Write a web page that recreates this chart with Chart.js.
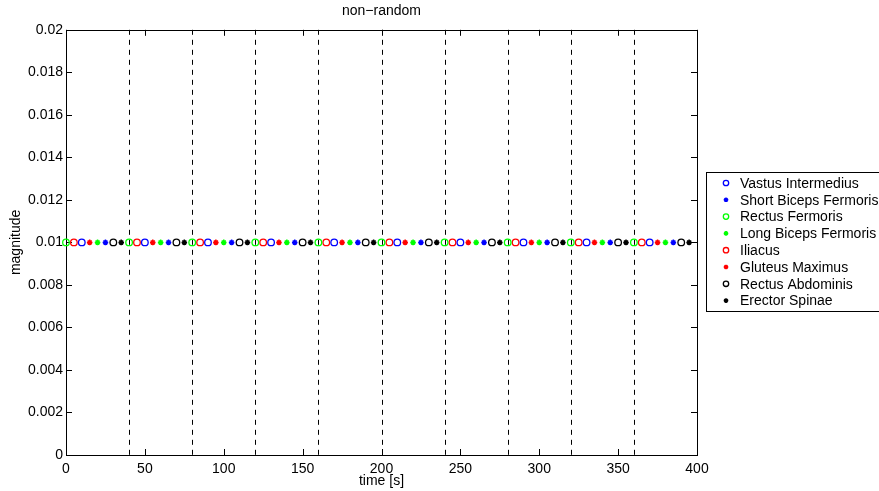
<!DOCTYPE html>
<html>
<head>
<meta charset="utf-8">
<title>non-random</title>
<script src="https://cdn.jsdelivr.net/npm/chart.js@4"></script>
<style>
  body { margin: 0; background: #fff; }
  #wrap { width: 879px; height: 491px; }
</style>
</head>
<body>
<div id="wrap"><canvas id="myCanvas" width="879" height="491"></canvas></div>
<script>
'use strict';

//global variables

const seriesNames = [
  'Vastus Intermedius',
  'Short Biceps Fermoris',
  'Rectus Fermoris',
  'Long Biceps Fermoris',
  'Iliacus',
  'Gluteus Maximus',
  'Rectus Abdominis',
  'Erector Spinae'
];

// sample times [s] for each muscle, same order as seriesNames
const vastusTimes = [10, 50, 90, 130, 170, 210, 250, 290, 330, 370];
const shortBicepsTimes = [25, 65, 105, 145, 185, 225, 265, 305, 345, 385];
const rectusFermorisTimes = [0, 40, 80, 120, 160, 200, 240, 280, 320, 360];
const longBicepsTimes = [20, 60, 100, 140, 180, 220, 260, 300, 340, 380];
const iliacusTimes = [5, 45, 85, 125, 165, 205, 245, 285, 325, 365];
const gluteusTimes = [15, 55, 95, 135, 175, 215, 255, 295, 335, 375];
const rectusAbdominisTimes = [30, 70, 110, 150, 190, 230, 270, 310, 350, 390];
const erectorTimes = [35, 75, 115, 155, 195, 235, 275, 315, 355, 395];

const seriesTimes = [vastusTimes, shortBicepsTimes, rectusFermorisTimes, longBicepsTimes,
  iliacusTimes, gluteusTimes, rectusAbdominisTimes, erectorTimes];

// magnitude is the same for every sample
const magnitudes = [0.01, 0.01, 0.01, 0.01, 0.01, 0.01, 0.01, 0.01, 0.01, 0.01];

// dashed separators between trials
const boundaries = [40, 80, 120, 160, 200, 240, 280, 320, 360];

const xTicks = [0, 50, 100, 150, 200, 250, 300, 350, 400];
const yTicks = [0, 0.002, 0.004, 0.006, 0.008, 0.01, 0.012, 0.014, 0.016, 0.018, 0.02];

const seriesColors = ['#0000ff', '#0000ff', '#00ff00', '#00ff00', '#ff0000', '#ff0000', '#000000', '#000000'];
const seriesMarkers = ['o', '*', 'o', '*', 'o', '*', 'o', '*'];

const fontFamily = '"Liberation Sans", Arial, Helvetica, sans-serif';

//functional logic

function markerStyle(marker, color, small) {
  if (marker === 'o') {
    return {
      pointStyle: 'circle',
      radius: small ? 2.7 : 3.3,
      borderWidth: 1.3,
      fill: 'rgba(0,0,0,0)',
      stroke: color
    };
  }
  return {
    pointStyle: 'star',
    radius: small ? 2.3 : 2.8,
    borderWidth: 1.5,
    fill: color,
    stroke: color
  };
}

function buildDatasets() {
  let sets = [];
  for (let i = 0; i < seriesNames.length; i++) {
    let points = [];
    for (let j = 0; j < seriesTimes[i].length; j++) {
      points.push({ x: seriesTimes[i][j], y: magnitudes[j] });
    }
    let m = markerStyle(seriesMarkers[i], seriesColors[i], false);
    sets.push({
      label: seriesNames[i],
      data: points,
      pointStyle: m.pointStyle,
      pointRadius: m.radius,
      pointBorderWidth: m.borderWidth,
      pointBackgroundColor: m.fill,
      pointBorderColor: m.stroke,
      showLine: false,
      clip: false
    });
  }
  return sets;
}

// box, inward ticks on all four sides and the dashed trial lines
const framePlugin = {
  id: 'frame',
  beforeDatasetsDraw(chart) {
    const ctx = chart.ctx;
    const area = chart.chartArea;
    const xs = chart.scales.x;
    const ys = chart.scales.y;
    ctx.save();

    ctx.strokeStyle = '#000';
    ctx.lineWidth = 1;
    ctx.setLineDash([5, 5]);
    for (let i = 0; i < boundaries.length; i++) {
      let px = Math.round(xs.getPixelForValue(boundaries[i])) + 0.5;
      ctx.beginPath();
      ctx.moveTo(px, area.top);
      ctx.lineTo(px, area.bottom);
      ctx.stroke();
    }
    ctx.setLineDash([]);

    const tick = 6;
    ctx.beginPath();
    for (let i = 0; i < xTicks.length; i++) {
      let px = Math.round(xs.getPixelForValue(xTicks[i])) + 0.5;
      ctx.moveTo(px, area.bottom);
      ctx.lineTo(px, area.bottom - tick);
      ctx.moveTo(px, area.top);
      ctx.lineTo(px, area.top + tick);
    }
    for (let i = 0; i < yTicks.length; i++) {
      let py = Math.round(ys.getPixelForValue(yTicks[i])) + 0.5;
      ctx.moveTo(area.left, py);
      ctx.lineTo(area.left + tick, py);
      ctx.moveTo(area.right, py);
      ctx.lineTo(area.right - tick, py);
    }
    ctx.stroke();

    ctx.lineWidth = 1;
    ctx.strokeRect(Math.round(area.left) + 0.5, Math.round(area.top) + 0.5,
      Math.round(area.right - area.left), Math.round(area.bottom - area.top));
    ctx.restore();
  }
};

// matlab style legend box sitting to the right of the axes
const legendPlugin = {
  id: 'boxLegend',
  afterDraw(chart) {
    const ctx = chart.ctx;
    const left = 706;
    const top = 172;
    const rowHeight = 16.8;
    ctx.save();
    ctx.fillStyle = '#fff';
    ctx.fillRect(left, top, 200, 139);
    ctx.strokeStyle = '#000';
    ctx.lineWidth = 1;
    ctx.strokeRect(left + 0.5, top + 0.5, 200, 139);

    ctx.font = '14px ' + fontFamily;
    ctx.textBaseline = 'middle';
    for (let i = 0; i < seriesNames.length; i++) {
      let cy = top + 11 + i * rowHeight;
      let m = markerStyle(seriesMarkers[i], seriesColors[i], true);
      ctx.fillStyle = m.fill;
      ctx.strokeStyle = m.stroke;
      ctx.lineWidth = m.borderWidth;
      Chart.helpers.drawPoint(ctx, {
        pointStyle: m.pointStyle,
        radius: m.radius,
        rotation: 0,
        borderWidth: m.borderWidth
      }, 726, cy);
      ctx.fillStyle = '#000';
      ctx.fillText(seriesNames[i], 740, cy + 1);
    }
    ctx.restore();
  }
};

function renderChart() {
  Chart.defaults.font.family = fontFamily;
  Chart.defaults.font.size = 14;
  Chart.defaults.color = '#000';

  const config = {
    type: 'scatter',
    data: { datasets: buildDatasets() },
    options: {
      responsive: false,
      animation: false,
      devicePixelRatio: 1,
      events: [],
      layout: { padding: { left: 0, right: 182, top: 0, bottom: 0 } },
      plugins: {
        legend: { display: false },
        tooltip: { enabled: false },
        title: {
          display: true,
          fullSize: false,
          text: 'non\u2212random',
          font: { size: 14, weight: 'normal' },
          color: '#000',
          padding: { top: 3, bottom: 10 }
        }
      },
      scales: {
        x: {
          type: 'linear',
          min: 0,
          max: 400,
          afterBuildTicks: scale => { scale.ticks = xTicks.map(v => ({ value: v })); },
          ticks: { padding: 6, maxRotation: 0, autoSkip: false },
          grid: { display: false, drawTicks: false },
          border: { display: false },
          title: { display: true, text: 'time [s]', padding: { top: 0, bottom: 1 } },
          afterFit: scale => { scale.height = 36; }
        },
        y: {
          type: 'linear',
          min: 0,
          max: 0.02,
          afterBuildTicks: scale => { scale.ticks = yTicks.map(v => ({ value: v })); },
          ticks: {
            padding: 3,
            autoSkip: false,
            callback: value => String(Number(value.toFixed(3)))
          },
          grid: { display: false, drawTicks: false },
          border: { display: false },
          title: { display: true, text: 'magnitude', padding: { top: 8, bottom: 0 } },
          afterFit: scale => { scale.width = 66; }
        }
      }
    },
    plugins: [framePlugin, legendPlugin]
  };

  const canvas = document.getElementById('myCanvas');
  const myChart = new Chart(canvas, config);
}

renderChart();
</script>
</body>
</html>
